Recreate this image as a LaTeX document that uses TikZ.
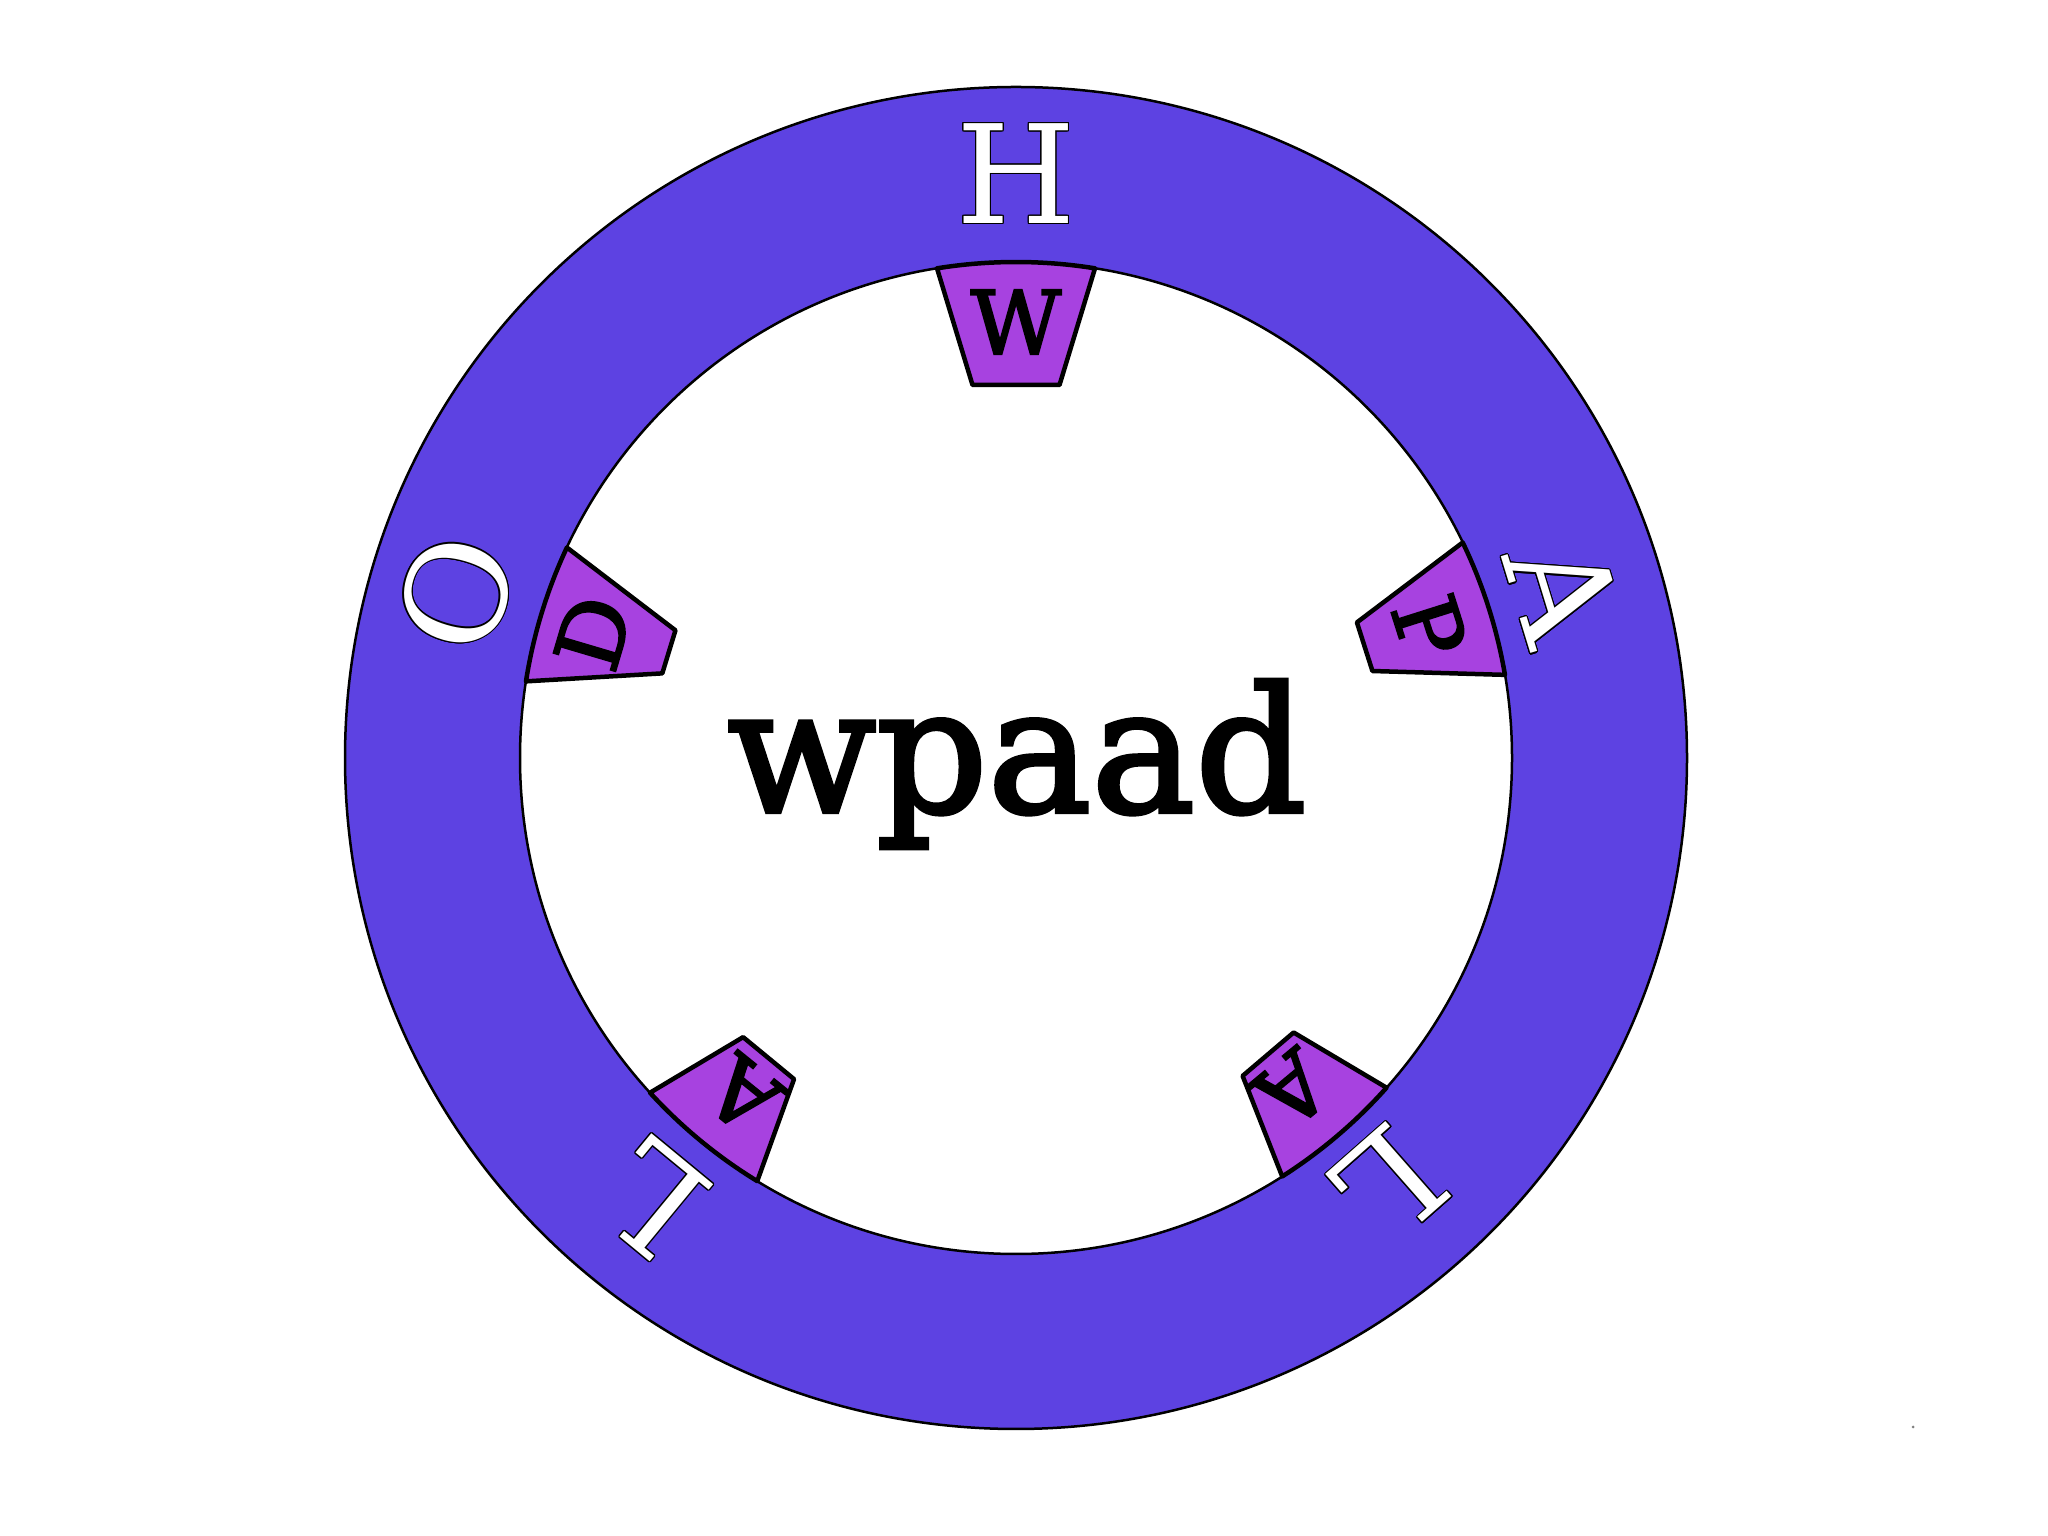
\documentclass[tikz,border=0pt]{standalone}
\usepackage{fontspec}
\setmainfont{DejaVu Serif}
\newfontfamily\medfont{DejaVu Serif}[FakeBold=2.5]
\usepackage{contour}
\contourlength{1.2pt}
\definecolor{ringblue}{HTML}{5D42E2}
\definecolor{tabpurple}{HTML}{A742E0}
\tikzset{
 ringletter/.style={font=\fontsize{137}{137}\selectfont, inner sep=0pt, text=white},
 tabletter/.style={font=\medfont\fontsize{88}{88}\selectfont, inner sep=0pt, text=black},
 tabshape/.style={fill=tabpurple, draw=black, line width=4.5, line join=round},
 ringline/.style={draw=black, line width=2.5},
 centerword/.style={font=\medfont\fontsize{174}{174}\selectfont, inner sep=0pt, anchor=base},
}
\newcommand\tabpiece[4]{%
 \begin{scope}[shift={(c)}, rotate=#1-90]
 \pgfmathsetmacro\tabao{asin(#2/496)}
 \draw[tabshape] (90+\tabao:496) arc[start angle=90+\tabao, end angle=90-\tabao, radius=496] -- (#3,#4) -- (-#3,#4) -- cycle;
 \end{scope}}
\begin{document}
\begin{tikzpicture}[x=1pt,y=1pt]
\useasboundingbox (0,0) rectangle (2048,1536);
\fill[white] (0,0) rectangle (2048,1536);
\coordinate (c) at (1016,778);
\fill[ringblue, even odd rule] (c) circle[radius=671] (c) circle[radius=496];
% tabs
\tabpiece{90}{79}{43.5}{373}
\tabpiece{17.7}{69.5}{25.5}{366}
\tabpiece{-49.6}{68.5}{33.5}{389}
\tabpiece{-129.5}{69.5}{33}{389}
\tabpiece{163}{70}{22.5}{363}
% ring outlines
\draw[ringline] (c) circle[radius=671];
\draw[ringline] (c) circle[radius=496];
% outer letters
\path (c) ++(90:584) node[ringletter, rotate=0] (oH) {\contour{black}{H}};
\path (c) ++(17:572) node[ringletter, rotate=-73] (oA) {\contour{black}{A}};
\path (c) ++(-48.7:567) node[ringletter, rotate=-138.7] (oL1) {\contour{black}{L}};
\path (c) ++(-129.5:571) node[ringletter, rotate=-219.5] (oL2) {\contour{black}{L}};
\path (c) ++(163.6:583) node[ringletter, rotate=73.6] (oO) {\contour{black}{O}};
% inner letters
\path (c) ++(90:436) node[tabletter, rotate=0] (iW) {W};
\path (c) ++(17.6:434) node[tabletter, rotate=-72.4] (iP) {P};
\path (c) ++(-50.2:432) node[tabletter, rotate=-140.2] (iA1) {A};
\path (c) ++(-129:434) node[tabletter, rotate=-219] (iA2) {A};
\path (c) ++(163.5:441) node[tabletter, rotate=73.5] (iD) {D};
% centre word
\node[centerword] (word) at (1017,724) {wpaad};
% speck
\fill[gray] (1913,109) circle[radius=1.5];
\end{tikzpicture}
\end{document}
